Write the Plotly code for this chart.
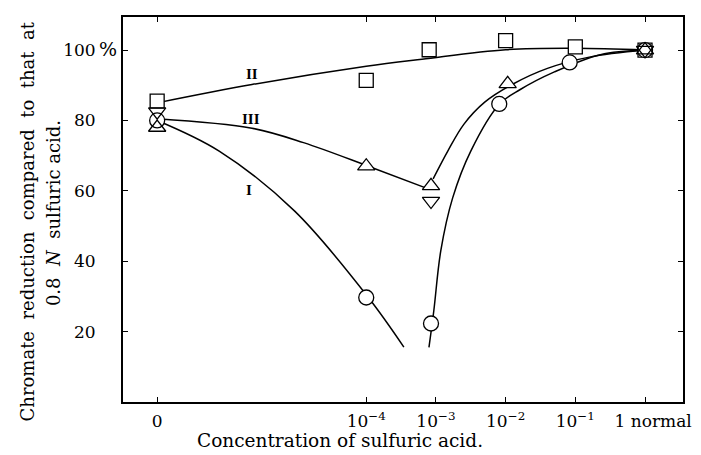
import math
import plotly.graph_objects as go

# ---------------- data ----------------
ZERO_POS = -7.0  # axis position used for "0" concentration (log10 scale otherwise)

# measured points: concentration (normal) -> chromate reduction (%)
sq_conc = [0, 1e-4, 8e-4, 1e-2, 1e-1, 1]
sq_val = [85.5, 91.4, 100.1, 102.7, 100.9, 100.0]

circ_conc = [0, 1e-4, 8.5e-4, 8.1e-3, 8.3e-2, 1]
circ_val = [80.0, 29.7, 22.3, 84.7, 96.5, 100.0]

tri_conc = [0, 1e-4, 8.5e-4, 1.07e-2, 1]
tri_val = [78.0, 67.0, 61.4, 90.4, 100.0]

tdn_conc = [0, 8.5e-4, 1]
tdn_val = [82.5, 57.1, 100.0]

# drawn curves (log10 concentration, value)
curve2_lx = [-7.0, -5.64, -4.0, -3.2, -2.0, -1.0, 0.0]
curve2_y = [85.0, 90.2, 95.4, 97.4, 100.1, 100.5, 100.0]

curve3a_lx = [-7.0, -5.64, -4.9, -3.97, -3.1]
curve3a_y = [80.5, 77.8, 73.7, 67.0, 60.5]
curve3b_lx = [-3.04, -2.83, -2.6, -2.3, -1.9, -1.4, -0.8, 0.0]
curve3b_y = [63.4, 71.3, 78.9, 85.2, 90.3, 94.8, 98.0, 100.0]

curve1a_lx = [-7.0, -6.11, -5.03, -3.97, -3.46]
curve1a_y = [80.0, 71.3, 54.3, 29.7, 15.6]
curve1b_lx = [-3.1, -3.03, -2.93, -2.76, -2.5, -2.09, -1.79, -1.3, -0.64, 0.0]
curve1b_y = [15.5, 26.0, 43.0, 58.0, 71.3, 84.6, 88.8, 93.8, 98.7, 100.0]

x_tick_pos = [-7, -4, -3, -2, -1, 0]
x_tick_text = ["0", "10<sup>−4</sup>", "10<sup>−3</sup>", "10<sup>−2</sup>",
               "10<sup>−1</sup>", "\u00a0\u00a0\u00a01 normal"]
y_tick_pos = [20, 40, 60, 80, 100]
y_tick_text = ["20", "40", "60", "80", "100"]

curve_labels = ["II", "III", "I"]
curve_label_x = [-5.64, -5.66, -5.68]
curve_label_y = [93.2, 80.5, 60.2]


def pos(c):
    return ZERO_POS if c == 0 else math.log10(c)


FONT = "DejaVu Serif"
fig = go.Figure()

line_style = dict(color="black", width=1.5, shape="spline", smoothing=1.0)
for lx, ly in [(curve2_lx, curve2_y),
               (curve3a_lx, curve3a_y), (curve3b_lx, curve3b_y),
               (curve1a_lx, curve1a_y), (curve1b_lx, curve1b_y)]:
    fig.add_trace(go.Scatter(x=lx, y=ly, mode="lines", line=line_style,
                             hoverinfo="skip", showlegend=False))


def fills(concs):
    return ["rgba(0,0,0,0)" if c in (0, 1) else "white" for c in concs]


fig.add_trace(go.Scatter(x=[pos(c) for c in sq_conc], y=sq_val, mode="markers",
                         marker=dict(symbol="square", size=14, color="white",
                                     line=dict(color="black", width=1.3)),
                         showlegend=False))
fig.add_trace(go.Scatter(x=[pos(c) for c in circ_conc], y=circ_val, mode="markers",
                         marker=dict(symbol="circle", size=15, color="white",
                                     line=dict(color="black", width=1.3)),
                         showlegend=False))
fig.add_trace(go.Scatter(x=[pos(c) for c in tri_conc], y=tri_val, mode="markers",
                         marker=dict(symbol="triangle-up", size=15, color=fills(tri_conc),
                                     line=dict(color="black", width=1.3)),
                         showlegend=False))
fig.add_trace(go.Scatter(x=[pos(c) for c in tdn_conc], y=tdn_val, mode="markers",
                         marker=dict(symbol="triangle-down", size=15, color=fills(tdn_conc),
                                     line=dict(color="black", width=1.3)),
                         showlegend=False))

for t, x, y in zip(curve_labels, curve_label_x, curve_label_y):
    fig.add_annotation(x=x, y=y, text="<b>" + t + "</b>", showarrow=False,
                       font=dict(family="Liberation Serif", size=15, color="black"))

# percent sign next to the 100 tick label
fig.add_annotation(xref="paper", yref="y", x=-0.047, y=100.3, xanchor="left",
                   text="%", showarrow=False,
                   font=dict(family=FONT, size=19, color="black"))

# y axis title (two lines)
fig.add_annotation(xref="paper", yref="paper", x=-0.193, y=0.47, textangle=-90,
                   text="Chromate  reduction  compared  to  that  at", showarrow=False,
                   font=dict(family=FONT, size=18, color="black"))
fig.add_annotation(xref="paper", yref="paper", x=-0.146, y=0.49, textangle=-90,
                   text="0.8  <i>N</i>  sulfuric acid.", showarrow=False,
                   font=dict(family=FONT, size=18, color="black"))

# x axis title (placed left of centre as in the reference)
fig.add_annotation(xref="paper", yref="paper", x=0.3875, y=-0.101, yanchor="middle",
                   text="Concentration of sulfuric acid.", showarrow=False,
                   font=dict(family=FONT, size=18.5, color="black"))

axis_common = dict(showline=True, linecolor="black", linewidth=2, mirror="ticks",
                   ticks="inside", ticklen=5, tickwidth=1.2, tickcolor="black",
                   showgrid=False, zeroline=False,
                   tickfont=dict(family=FONT, size=17, color="black"))

fig.update_xaxes(range=[-7.49, 0.545], tickvals=x_tick_pos, ticktext=x_tick_text,
                 ticklabelstandoff=3, **axis_common)
fig.update_yaxes(range=[0, 109.4], tickvals=y_tick_pos, ticktext=y_tick_text,
                 ticklabelstandoff=22, **axis_common)

# the page body adds an 8px offset; margins compensate so the plot frame
# lands where the reference frame is
fig.update_layout(width=693, height=447, margin=dict(l=115, r=18, t=7, b=53),
                  paper_bgcolor="white", plot_bgcolor="white",
                  font=dict(family=FONT, color="black"))

fig.write_html("out.html")
